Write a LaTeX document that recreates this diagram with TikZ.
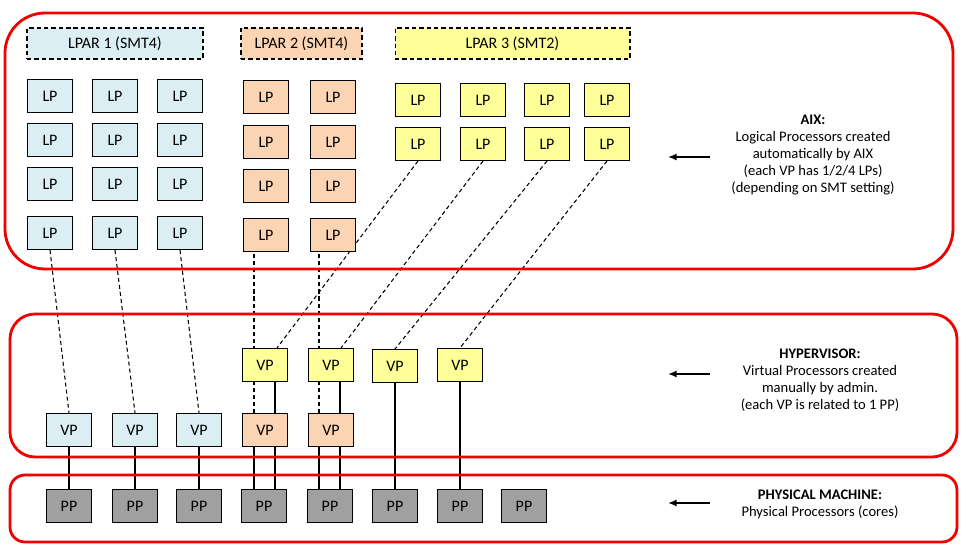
\documentclass[tikz,border=0pt]{standalone}
\usepackage{fontspec}
\setmainfont{Carlito}
\usetikzlibrary{arrows.meta,backgrounds}

\definecolor{lpblue}{HTML}{DAEEF3}
\definecolor{lporange}{HTML}{FBD4B4}
\definecolor{lpyellow}{HTML}{FFFF99}
\definecolor{ppgray}{HTML}{A0A0A0}
\definecolor{framered}{HTML}{F00000}

\begin{document}
\begin{tikzpicture}[x=0.02cm, y=-0.02cm, every node/.style={font=\fontsize{8.3}{9.7}\selectfont}, >={Latex[length=1.7mm,width=1.4mm]},
	proc/.style={draw, line width=0.6pt, minimum width=0.9cm, minimum height=0.66cm, inner sep=0pt, font=\fontsize{9.1}{11}\selectfont},
	lpar/.style={draw, dash pattern=on 2.5pt off 1.7pt, line width=0.6pt, minimum height=0.62cm, inner sep=0pt, font=\fontsize{9.1}{11}\selectfont},
	frame/.style={draw=framered, line width=1.6pt},
	link/.style={dash pattern=on 2.3pt off 1.7pt, line width=0.6pt},
	bond/.style={line width=1.6pt}]
	\useasboundingbox (0,0) rectangle (970,554);
	\node[lpar, fill=lpblue, minimum width=3.52cm] (lpar1) at (115,43.5) {LPAR 1 (SMT4)};
	\node[lpar, fill=lporange, minimum width=2.42cm] (lpar2) at (301.5,43.5) {LPAR 2 (SMT4)};
	\node[lpar, fill=lpyellow, minimum width=4.7cm] (lpar3) at (512.5,43.5) {LPAR 3 (SMT2)};
	\foreach \c/\x in {1/50,2/115,3/180}
		\foreach \r/\y in {1/96,2/140,3/184,4/233}
			\node[proc, fill=lpblue] (b\r\c) at (\x,\y) {LP};
	\foreach \c/\x in {1/266,2/333}
		\foreach \r/\y in {1/97,2/142,3/186,4/235}
			\node[proc, fill=lporange] (o\r\c) at (\x,\y) {LP};
	\foreach \c/\x in {1/418,2/483,3/547,4/607}
		\foreach \r/\y in {1/100,2/144}
			\node[proc, fill=lpyellow] (y\r\c) at (\x,\y) {LP};
	\node[proc, fill=lpblue] (bv1) at (69,430) {VP};
	\node[proc, fill=lpblue] (bv2) at (135,430) {VP};
	\node[proc, fill=lpblue] (bv3) at (199,430) {VP};
	\node[proc, fill=lporange] (ov1) at (265,430) {VP};
	\node[proc, fill=lporange] (ov2) at (331,430) {VP};
	\node[proc, fill=lpyellow] (yv1) at (265,365) {VP};
	\node[proc, fill=lpyellow] (yv2) at (331,365) {VP};
	\node[proc, fill=lpyellow] (yv3) at (395,366) {VP};
	\node[proc, fill=lpyellow] (yv4) at (460,365) {VP};
	\foreach \i/\x in {1/69,2/135,3/199,4/264,5/330,6/395,7/460,8/524}
		\node[proc, fill=ppgray] (pp\i) at (\x,506) {PP};
	\begin{scope}[on background layer]
		\draw[link] (b41.south) -- (bv1.north);
		\draw[link] (b42.south) -- (bv2.north);
		\draw[link] (b43.south) -- (bv3.north);
		\draw[link] ([xshift=-0.22cm]ov1.north) -- ([xshift=-0.22cm]ov1.north |- o41.south);
		\draw[link] ([xshift=-0.24cm]ov2.north) -- ([xshift=-0.24cm]ov2.north |- o42.south);
		\draw[link] (y21.south) -- ([xshift=0.24cm]yv1.north);
		\draw[link] (y22.south) -- ([xshift=0.2cm]yv2.north);
		\draw[link] (y23.south) -- (yv3.north);
		\draw[link] (y24.south) -- (yv4.north);
		\draw[bond] (bv1.south) -- (pp1.north);
		\draw[bond] (bv2.south) -- (pp2.north);
		\draw[bond] (bv3.south) -- (pp3.north);
		\draw[bond] ([xshift=-0.22cm]ov1.south) -- ([xshift=-0.22cm]ov1.south |- pp4.north);
		\draw[bond] ([xshift=0.2cm]yv1.south) -- ([xshift=0.2cm]yv1.south |- pp4.north);
		\draw[bond] ([xshift=-0.24cm]ov2.south) -- ([xshift=-0.24cm]ov2.south |- pp5.north);
		\draw[bond] ([xshift=0.18cm]yv2.south) -- ([xshift=0.18cm]yv2.south |- pp5.north);
		\draw[bond] (yv3.south) -- (pp6.north);
		\draw[bond] (yv4.south) -- (pp7.north);
	\end{scope}
	\draw[frame, rounded corners=0.8cm] (5,13) rectangle (953,269);
	\draw[frame, rounded corners=0.5cm] (10,314) rectangle (957,457);
	\draw[frame, rounded corners=0.3cm] (10,475) rectangle (957,542);
	\node[align=center] (aixtxt) at (813,155) {\textbf{AIX:}\\Logical Processors created\\automatically by AIX\\(each VP has 1/2/4 LPs)\\(depending on SMT setting)};
	\node[align=center] (hyptxt) at (820,380) {\textbf{HYPERVISOR:}\\Virtual Processors created\\manually by admin.\\(each VP is related to 1 PP)};
	\node[align=center] (phytxt) at (820,504) {\textbf{PHYSICAL MACHINE:}\\Physical Processors (cores)};
	\coordinate (aixarr) at (710,157);
	\coordinate (hyparr) at (710,374);
	\coordinate (phyarr) at (710,503);
	\draw[->, line width=0.9pt] (aixarr) -- ++(-42,0);
	\draw[->, line width=0.9pt] (hyparr) -- ++(-42,0);
	\draw[->, line width=0.9pt] (phyarr) -- ++(-42,0);
\end{tikzpicture}
\end{document}
